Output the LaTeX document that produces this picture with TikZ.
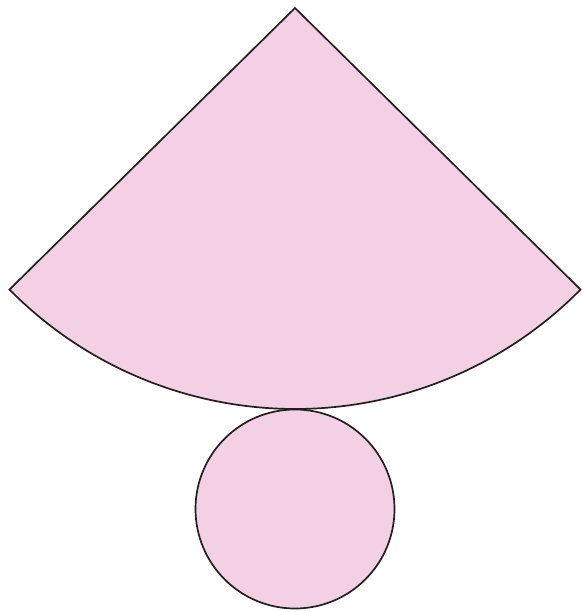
\documentclass[tikz,border=0pt]{standalone}
\begin{document}
\begin{tikzpicture}[x=1pt,y=-1pt,
  shapefill/.style={fill={rgb,255:red,243;green,208;blue,228},draw={rgb,255:red,35;green,31;blue,32},line width=1.7pt,line join=miter}]
\useasboundingbox (0,0) rectangle (581,612);
\coordinate (apex) at (295,8);
\draw[shapefill] (apex) -- ++(135.4:401) arc[start angle=135.4,end angle=44.6,radius=401] -- cycle;
\node[shapefill,circle,minimum size=199pt,inner sep=0pt] (base) at (295,509) {};
\end{tikzpicture}
\end{document}
